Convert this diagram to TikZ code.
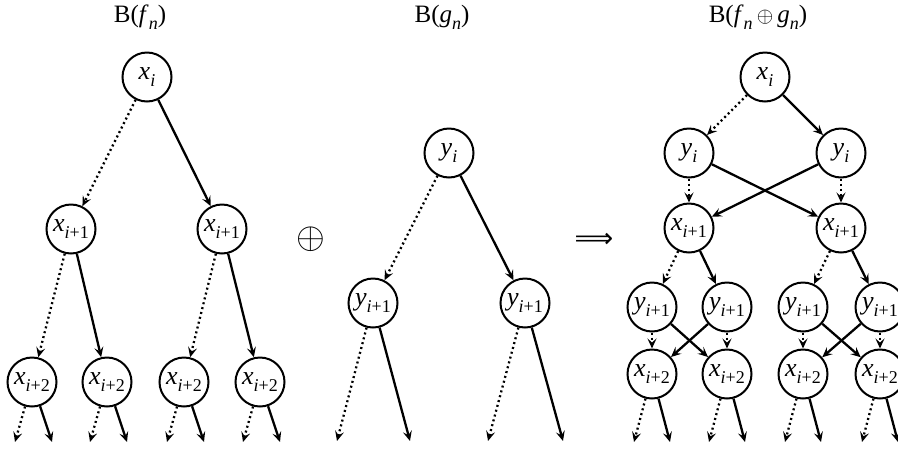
\documentclass[tikz,border=0pt]{standalone}
\usepackage{fontspec}
\setmainfont{Liberation Serif}
\newfontfamily\symfont{DejaVu Sans}
\usetikzlibrary{arrows.meta}
\newcommand{\sv}[2]{\textit{#1}\raisebox{-0.28em}{\fontsize{18}{18}\selectfont #2}}
\newcommand{\sn}{\raisebox{-0.28em}{\fontsize{18}{18}\selectfont\textit{n}}}
\newcommand{\ii}{\textit{i}}
\begin{document}
\begin{tikzpicture}[x=1pt,y=-1pt,
  nd/.style={circle,draw,line width=2pt,minimum size=49pt,inner sep=0pt,font=\fontsize{26}{28}\selectfont},
  tip/.style={-{Stealth[length=10pt,width=9pt,inset=4pt]}},
  sol/.style={line width=2.3pt,tip},
  dot/.style={line width=2.3pt,dash pattern=on 2pt off 3pt,tip},
  ttl/.style={font=\fontsize{25}{28}\selectfont,anchor=base,inner sep=0pt}]
\useasboundingbox (0,0) rectangle (898,451);

% titles
\node[ttl] (t1) at (140,22) {B(\textit{f}\sn)};
\node[ttl] (t2) at (442,22) {B(\textit{g}\sn)};
\node[ttl] (t3) at (758,22) {B(\textit{f}\sn\,\scalebox{0.85}{$\oplus$}\,\textit{g}\sn)};

% operators
\node[inner sep=0pt] (op) at (311,239) {\scalebox{3.7}{$\oplus$}};
\node[inner sep=0pt,font=\symfont\fontsize{27}{30}\selectfont] (imp) at (594,240) {⟹};

% left tree
\node[nd] (L0) at (147,77) {\sv{x}{\ii}};
\node[nd] (L1a) at (71,229) {\sv{x}{\ii+1}};
\node[nd] (L1b) at (222,229) {\sv{x}{\ii+1}};
\node[nd] (L2a) at (32,382) {\sv{x}{\ii+2}};
\node[nd] (L2b) at (107,382) {\sv{x}{\ii+2}};
\node[nd] (L2c) at (184,382) {\sv{x}{\ii+2}};
\node[nd] (L2d) at (260,382) {\sv{x}{\ii+2}};
\draw[dot] (L0) -- (L1a);
\draw[sol] (L0) -- (L1b);
\draw[dot] (L1a) -- (L2a);
\draw[sol] (L1a) -- (L2b);
\draw[dot] (L1b) -- (L2c);
\draw[sol] (L1b) -- (L2d);

% middle tree
\node[nd] (M0) at (449,153) {\sv{y}{\ii}};
\node[nd] (M1a) at (373,303) {\sv{y}{\ii+1}};
\node[nd] (M1b) at (525,303) {\sv{y}{\ii+1}};
\draw[dot] (M0) -- (M1a);
\draw[sol] (M0) -- (M1b);
\coordinate (Ma1) at (337,441); \coordinate (Ma2) at (410,441);
\coordinate (Mb1) at (488,441); \coordinate (Mb2) at (563,441);
\draw[dot] (M1a) -- (Ma1);
\draw[sol] (M1a) -- (Ma2);
\draw[dot] (M1b) -- (Mb1);
\draw[sol] (M1b) -- (Mb2);

% right tree
\node[nd] (R0) at (765,77) {\sv{x}{\ii}};
\node[nd] (Ry1) at (689,153) {\sv{y}{\ii}};
\node[nd] (Ry2) at (841,153) {\sv{y}{\ii}};
\node[nd] (Rx1) at (689,228) {\sv{x}{\ii+1}};
\node[nd] (Rx2) at (841,228) {\sv{x}{\ii+1}};
\node[nd] (Ryy1) at (652,307) {\sv{y}{\ii+1}};
\node[nd] (Ryy2) at (727,307) {\sv{y}{\ii+1}};
\node[nd] (Ryy3) at (803,307) {\sv{y}{\ii+1}};
\node[nd] (Ryy4) at (880,307) {\sv{y}{\ii+1}};
\node[nd] (Rxx1) at (652,374) {\sv{x}{\ii+2}};
\node[nd] (Rxx2) at (727,374) {\sv{x}{\ii+2}};
\node[nd] (Rxx3) at (803,374) {\sv{x}{\ii+2}};
\node[nd] (Rxx4) at (880,374) {\sv{x}{\ii+2}};
\draw[dot] (R0) -- (Ry1);
\draw[sol] (R0) -- (Ry2);
\draw[dot] (Ry1) -- (Rx1);
\draw[sol] (Ry1) -- (Rx2);
\draw[sol] (Ry2) -- (Rx1);
\draw[dot] (Ry2) -- (Rx2);
\draw[dot] (Rx1) -- (Ryy1);
\draw[sol] (Rx1) -- (Ryy2);
\draw[dot] (Rx2) -- (Ryy3);
\draw[sol] (Rx2) -- (Ryy4);
\draw[dot] (Ryy1) -- (Rxx1);
\draw[sol] (Ryy1) -- (Rxx2);
\draw[sol] (Ryy2) -- (Rxx1);
\draw[dot] (Ryy2) -- (Rxx2);
\draw[dot] (Ryy3) -- (Rxx3);
\draw[sol] (Ryy3) -- (Rxx4);
\draw[sol] (Ryy4) -- (Rxx3);
\draw[dot] (Ryy4) -- (Rxx4);

% bottom stubs
\foreach \n in {L2a,L2b,L2c,L2d} {
  \coordinate (\n-l) at ([xshift=-17pt,yshift=-60pt]\n.center);
  \coordinate (\n-r) at ([xshift=20pt,yshift=-60pt]\n.center);
  \draw[dot] (\n) -- (\n-l);
  \draw[sol] (\n) -- (\n-r);
}
\foreach \n in {Rxx1,Rxx2,Rxx3,Rxx4} {
  \coordinate (\n-l) at ([xshift=-18pt,yshift=-68pt]\n.center);
  \coordinate (\n-r) at ([xshift=18pt,yshift=-68pt]\n.center);
  \draw[dot] (\n) -- (\n-l);
  \draw[sol] (\n) -- (\n-r);
}
\end{tikzpicture}
\end{document}
